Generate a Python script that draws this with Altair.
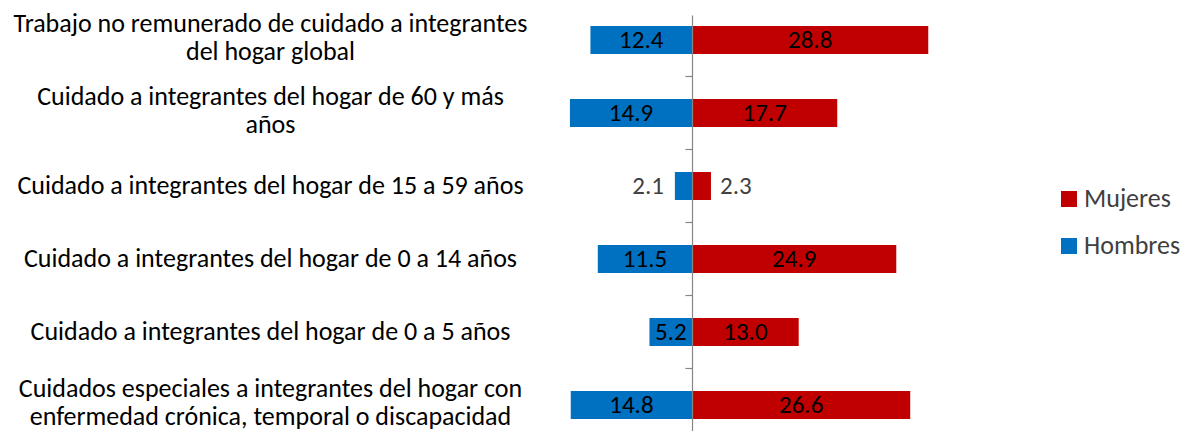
import altair as alt
import pandas as pd

FONT = "Carlito, Lato, sans-serif"

categorias = [
    "Trabajo no remunerado de cuidado a integrantes|del hogar global",
    "Cuidado a integrantes del hogar de 60 y más|años",
    "Cuidado a integrantes del hogar de 15 a 59 años",
    "Cuidado a integrantes del hogar de 0 a 14 años",
    "Cuidado a integrantes del hogar de 0 a 5 años",
    "Cuidados especiales  a integrantes del hogar con|enfermedad crónica, temporal o discapacidad",
]
hombres = [12.4, 14.9, 2.1, 11.5, 5.2, 14.8]
mujeres = [28.8, 17.7, 2.3, 24.9, 13.0, 26.6]
series = ["Mujeres", "Hombres"]
colores = ["#C00000", "#0070C0"]

rows = []
for c, h, m in zip(categorias, hombres, mujeres):
    rows.append({"cat": c, "sexo": "Hombres", "valor": -h, "texto": f"{h:.1f}"})
    rows.append({"cat": c, "sexo": "Mujeres", "valor": m, "texto": f"{m:.1f}"})
df = pd.DataFrame(rows)

xscale = alt.Scale(domain=[-15.5, 29.5], nice=False, zero=False)
yscale = alt.Scale(domain=categorias, paddingInner=0.6164, paddingOuter=0.1575, align=0.478)

yaxis = alt.Axis(
    title=None, offset=-127, domainColor="#868686", domainWidth=1.2,
    ticks=True, tickColor="#868686", tickSize=7, tickWidth=1.2,
    tickOffset=-36.5,
    labelOffset=alt.condition("indexof(datum.value, '|') >= 0", alt.value(20.5), alt.value(36.5)),
    labelPadding=415,
    labelAlign="center", labelBaseline="middle",
    labelExpr="split(datum.label, '|')", labelFont=FONT, labelFontSize=26,
    labelColor="#000000", labelLimit=0, labelLineHeight=28, zindex=1,
    grid=False,
)
yenc = alt.Y("cat:N", sort=categorias, scale=yscale, axis=yaxis)

base = alt.Chart(df)

bars = base.mark_bar().encode(
    x=alt.X("valor:Q", scale=xscale, axis=None, stack=None),
    y=yenc,
    color=alt.Color(
        "sexo:N",
        scale=alt.Scale(domain=series, range=colores),
        legend=alt.Legend(
            title=None, orient="none", legendX=491, legendY=171,
            symbolType="square", symbolSize=256, symbolStrokeWidth=0,
            labelFont=FONT, labelFontSize=26, labelColor="#404040",
            labelOffset=2, rowPadding=21, padding=0,
        ),
    ),
)

inside = base.transform_filter("abs(datum.valor) >= 3").transform_calculate(
    mid="datum.valor / 2"
).mark_text(font=FONT, fontSize=25, color="#000000", baseline="middle").encode(
    x=alt.X("mid:Q", scale=xscale, axis=None),
    y=yenc,
    text="texto:N",
)

out_h = base.transform_filter(
    "abs(datum.valor) < 3 && datum.sexo == 'Hombres'"
).mark_text(font=FONT, fontSize=25, color="#404040", align="right", dx=-11, baseline="middle").encode(
    x=alt.X("valor:Q", scale=xscale, axis=None),
    y=yenc,
    text="texto:N",
)

out_m = base.transform_filter(
    "abs(datum.valor) < 3 && datum.sexo == 'Mujeres'"
).mark_text(font=FONT, fontSize=25, color="#404040", align="left", dx=9, baseline="middle").encode(
    x=alt.X("valor:Q", scale=xscale, axis=None),
    y=yenc,
    text="texto:N",
)

chart = alt.layer(bars, inside, out_h, out_m).properties(
    width=369,
    height=416,
    autosize=alt.AutoSizeParams(type="none"),
    padding={"left": 557, "top": 7, "right": 253, "bottom": 11},
).configure_view(stroke=None)

chart.save("out.html", embed_options={"renderer": "svg", "actions": False})
